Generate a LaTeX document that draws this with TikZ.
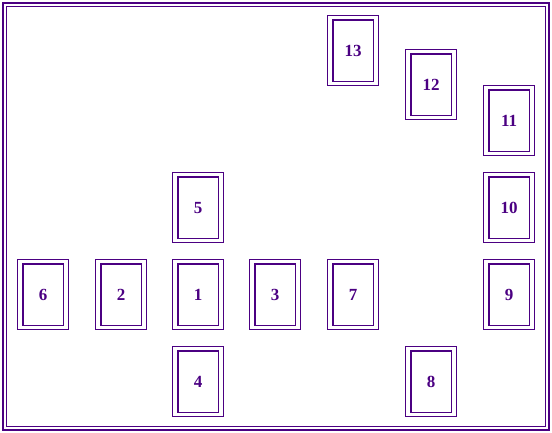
\documentclass[tikz,border=0pt]{standalone}
\usepackage{fontspec}
\setmainfont{Liberation Serif}
\definecolor{ink}{HTML}{4B0082}
\begin{document}
\begin{tikzpicture}[x=1pt,y=-1pt,
  frame/.style={draw=ink,line width=1.3pt},
  card/.style={frame,minimum width=51pt,minimum height=70pt,inner sep=0pt,anchor=north west,
    font=\fontsize{17}{20}\selectfont\bfseries,text=ink,
    append after command={\pgfextra{\draw[frame] ([xshift=6pt,yshift=-5pt]\tikzlastnode.north west) rectangle ([xshift=-6pt,yshift=5pt]\tikzlastnode.south east);}}}]
\useasboundingbox (0,0) rectangle (552,433);
\draw[frame] (3,3) rectangle (549,430);
\draw[frame] (6.5,6.5) rectangle (545.5,426.5);
\node[card] (c6) at (17,259) {6};
\node[card] (c2) at (95,259) {2};
\node[card] (c1) at (172,259) {1};
\node[card] (c3) at (249,259) {3};
\node[card] (c7) at (327,259) {7};
\node[card] (c9) at (483,259) {9};
\node[card] (c5) at (172,172) {5};
\node[card] (c4) at (172,346) {4};
\node[card] (c8) at (405,346) {8};
\node[card] (c10) at (483,172) {10};
\node[card] (c11) at (483,85) {11};
\node[card] (c12) at (405,49) {12};
\node[card] (c13) at (327,15) {13};
\end{tikzpicture}
\end{document}
